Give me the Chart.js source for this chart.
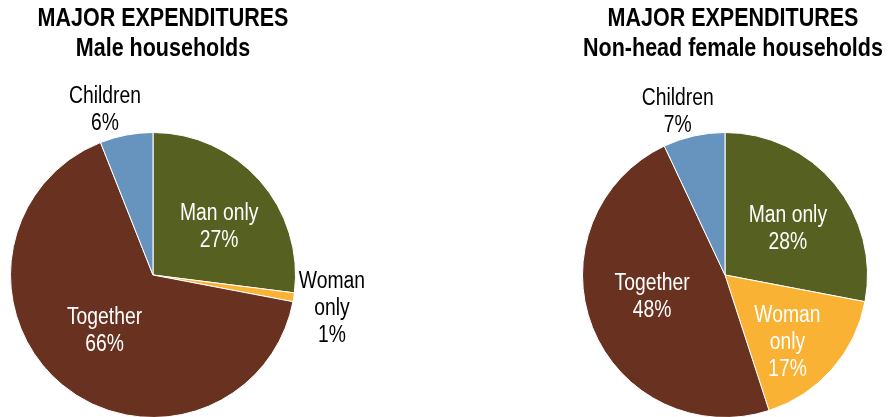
<!DOCTYPE html>
<html>
<head>
<meta charset="utf-8">
<script src="https://cdn.jsdelivr.net/npm/chart.js@4.4.1/dist/chart.umd.min.js"></script>
<style>
  html, body { margin: 0; padding: 0; background: #ffffff; overflow: hidden; width: 888px; height: 417px; }
  .wrap { position: absolute; top: 0; width: 444px; height: 420px; }
  canvas { display: block; }
</style>
</head>
<body>
<div class="wrap" style="left:0"><canvas id="left" width="444" height="420"></canvas></div>
<div class="wrap" style="left:444px"><canvas id="right" width="444" height="420"></canvas></div>
<script>
// ---- data ----
const categories = ["Man only", "Woman only", "Together", "Children"];
const maleValues = [27, 1, 66, 6];
const femaleValues = [28, 17, 48, 7];
const maleTitle = ["MAJOR EXPENDITURES", "Male households"];
const femaleTitle = ["MAJOR EXPENDITURES", "Non-head female households"];
const sliceColors = ["#566020", "#F9B234", "#693220", "#6794BE"];

// ---- text plugin (titles + slice labels) ----
const textPlugin = {
  id: "textPlugin",
  afterDraw(chart) {
    const o = chart.options.plugins.textPlugin;
    const ctx = chart.ctx;
    const drawLine = (txt, x, y, font, color, sx) => {
      ctx.save();
      ctx.font = font;
      ctx.fillStyle = color;
      ctx.textAlign = "center";
      ctx.textBaseline = "middle";
      ctx.translate(x, y);
      ctx.scale(sx, 1);
      ctx.fillText(txt, 0, 0);
      ctx.restore();
    };
    // titles
    o.title.forEach((t, i) => {
      drawLine(t, o.titleX, o.titleY + i * 30, "bold 25px 'Liberation Sans', Arial, sans-serif", "#000", 0.86);
    });
    // labels
    const meta = chart.getDatasetMeta(0);
    const data = chart.data.datasets[0].data;
    meta.data.forEach((arc, i) => {
      const p = arc.getProps(["x", "y", "startAngle", "endAngle", "outerRadius"], true);
      const mid = (p.startAngle + p.endAngle) / 2;
      const pl = o.place[i];
      const r = p.outerRadius * pl.f;
      const cx = p.x + Math.cos(mid) * r + pl.dx;
      const cy = p.y + Math.sin(mid) * r + pl.dy;
      const lines = (pl.lines || [chart.data.labels[i]]).concat([data[i] + "%"]);
      const lh = 27;
      const y0 = cy - (lines.length - 1) * lh / 2;
      lines.forEach((ln, k) => {
        drawLine(ln, cx, y0 + k * lh, "23px 'Liberation Sans', Arial, sans-serif", pl.color, 0.84);
      });
    });
  }
};

function makePie(id, values, title, pad, titleX, place) {
  return new Chart(document.getElementById(id), {
    type: "pie",
    data: {
      labels: categories,
      datasets: [{
        data: values,
        backgroundColor: sliceColors,
        borderColor: "#ffffff",
        borderWidth: 1
      }]
    },
    options: {
      responsive: false,
      animation: false,
      rotation: 0,
      layout: { padding: pad },
      plugins: {
        legend: { display: false },
        tooltip: { enabled: false },
        title: { display: false },
        textPlugin: { title: title, titleX: titleX, titleY: 19, place: place }
      }
    },
    plugins: [textPlugin]
  });
}

makePie("left", maleValues, maleTitle,
  { left: 10, top: 132, right: 148, bottom: 2 }, 163,
  [
    { f: 0.6, dx: 2, dy: 9, color: "#fff" },
    { f: 1.25, dx: 3, dy: 6, color: "#000", lines: ["Woman", "only"] },
    { f: 0.6, dx: 6, dy: -10, color: "#fff" },
    { f: 1.2, dx: -16, dy: 3.5, color: "#000" }
  ]);

makePie("right", femaleValues, femaleTitle,
  { left: 138, top: 132, right: 20, bottom: 2 }, 289,
  [
    { f: 0.6, dx: -3, dy: 9, color: "#fff" },
    { f: 0.65, dx: -7, dy: 6, color: "#fff", lines: ["Woman", "only"] },
    { f: 0.55, dx: 0, dy: -7, color: "#fff" },
    { f: 1.2, dx: -10, dy: 4.5, color: "#000" }
  ]);
</script>
</body>
</html>
